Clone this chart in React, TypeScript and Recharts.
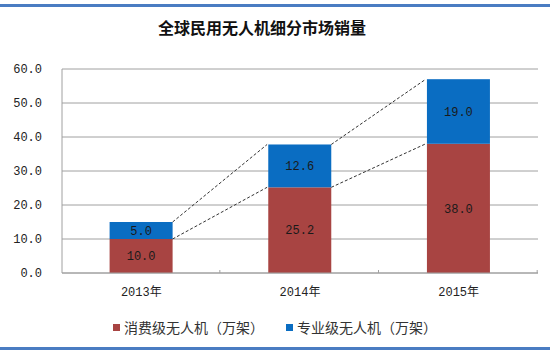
import React from 'react';
import { ComposedChart, Bar, XAxis, YAxis, CartesianGrid, LabelList } from 'recharts';

const categories = ['2013年', '2014年', '2015年'];
const consumer = [10.0, 25.2, 38.0];
const professional = [5.0, 12.6, 19.0];
const yTicks = [0, 10, 20, 30, 40, 50, 60];
const seriesNames = ['消费级无人机（万架）', '专业级无人机（万架）'];

const RED = '#A84442';
const BLUE = '#0A6DC2';
const GAP = 0.3; // barCategoryGap as fraction of category width

const data = categories.map((c, i) => ({ name: c, consumer: consumer[i], professional: professional[i] }));

const monoFont = '"Liberation Mono", "Noto Sans CJK SC", monospace';

// Bottom (consumer) bar: draws rect plus small axis tick at right category boundary
const ConsumerShape = (props: any) => {
  const { x, y, width, height, fill } = props;
  const step = width / (1 - 2 * GAP);
  const bx = x + width + GAP * step;
  const y0 = y + height;
  return (
    <g>
      <rect x={x} y={y} width={width} height={height} fill={fill} />
      <line x1={bx} y1={y0} x2={bx} y2={y0 - 3} stroke="#A0A0A0" />
    </g>
  );
};

// Top (professional) bar: draws rect plus series lines to the next bar
const ProfessionalShape = (props: any) => {
  const { x, y, width, height, fill, index } = props;
  const i = index as number;
  const els: React.ReactNode[] = [<rect key="r" x={x} y={y} width={width} height={height} fill={fill} />];
  if (i < categories.length - 1) {
    const step = width / (1 - 2 * GAP);
    const ppu = height / professional[i];
    const y0 = y + height + consumer[i] * ppu;
    const xa = x + width;
    const xb = x + step;
    const topNext = y0 - (consumer[i + 1] + professional[i + 1]) * ppu;
    const midNext = y0 - consumer[i + 1] * ppu;
    els.push(
      <line key="a" x1={xa} y1={y} x2={xb} y2={topNext} stroke="#333" strokeDasharray="3 2" />,
      <line key="b" x1={xa} y1={y + height} x2={xb} y2={midNext} stroke="#333" strokeDasharray="3 2" />
    );
  }
  return <g>{els}</g>;
};

export default function App() {
  return (
    <div style={{ position: 'absolute', left: 0, top: 0, width: 550, height: 353, background: '#fff', overflow: 'hidden' }}>
      <div style={{ position: 'absolute', left: 0, top: 4, width: 550, height: 3, background: '#4A7CC2' }} />
      <div style={{ position: 'absolute', left: 0, top: 347, width: 550, height: 3, background: '#4A7CC2' }} />
      <div
        style={{
          position: 'absolute',
          left: 0,
          top: 16,
          width: 524,
          textAlign: 'center',
          fontFamily: '"Noto Sans CJK SC", sans-serif',
          fontWeight: 'bold',
          fontSize: 16,
          color: '#111',
          lineHeight: '22px',
        }}
      >
        全球民用无人机细分市场销量
      </div>
      <div style={{ position: 'absolute', left: 0, top: 0 }}>
        <ComposedChart
          width={550}
          height={310}
          data={data}
          margin={{ top: 69, right: 12, bottom: 7, left: 0 }}
          barCategoryGap={`${GAP * 100}%`}
        >
          <CartesianGrid horizontal vertical={false} stroke="#A0A0A0" strokeWidth={1} />
          <XAxis
            dataKey="name"
            height={30}
            axisLine={{ stroke: '#A0A0A0' }}
            tickLine={false}
            tickSize={6}
            tickMargin={8}
            tick={{ fontFamily: monoFont, fontSize: 12, fill: '#222' }}
          />
          <YAxis
            width={62}
            domain={[0, 60]}
            ticks={yTicks}
            axisLine={{ stroke: '#A0A0A0' }}
            tickLine={false}
            tickSize={6}
            tickMargin={14}
            tickFormatter={(v: number) => v.toFixed(1)}
            tick={{ fontFamily: monoFont, fontSize: 12, fill: '#222' }}
          />
          <Bar dataKey="consumer" stackId="a" fill={RED} isAnimationActive={false} shape={ConsumerShape}>
            <LabelList
              dataKey="consumer"
              position="center"
              formatter={(v: number) => v.toFixed(1)}
              style={{ fontFamily: monoFont, fontSize: 12, fill: '#1a1a1a' }}
            />
          </Bar>
          <Bar dataKey="professional" stackId="a" fill={BLUE} isAnimationActive={false} shape={ProfessionalShape}>
            <LabelList
              dataKey="professional"
              position="center"
              formatter={(v: number) => v.toFixed(1)}
              style={{ fontFamily: monoFont, fontSize: 12, fill: '#1a1a1a' }}
            />
          </Bar>
        </ComposedChart>
      </div>
      <div
        style={{
          position: 'absolute',
          left: 0,
          top: 317,
          width: 550,
          display: 'flex',
          justifyContent: 'center',
          alignItems: 'center',
          fontFamily: '"Noto Sans CJK SC", sans-serif',
          fontSize: 14,
          color: '#333',
          lineHeight: '20px',
        }}
      >
        {seriesNames.map((n, i) => (
          <div key={n} style={{ display: 'flex', alignItems: 'center', marginLeft: i ? 22 : 0 }}>
            <span style={{ width: 7, height: 7, background: i ? BLUE : RED, marginRight: 4, display: 'inline-block' }} />
            <span>{n}</span>
          </div>
        ))}
      </div>
    </div>
  );
}
